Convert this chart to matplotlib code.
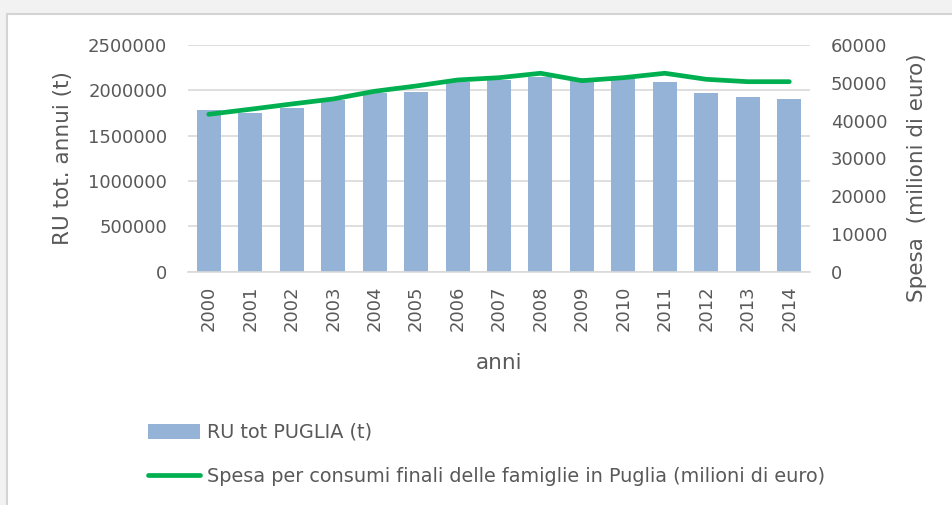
import numpy as np
import matplotlib
matplotlib.use("Agg")
import matplotlib.pyplot as plt
from matplotlib.patches import Rectangle

years = ['2000', '2001', '2002', '2003', '2004', '2005', '2006', '2007',
         '2008', '2009', '2010', '2011', '2012', '2013', '2014']
ru_tot = [1780000, 1753000, 1809000, 1897000, 1967000, 1982000, 2095000, 2114000,
          2151000, 2133000, 2127000, 2095000, 1967000, 1923000, 1908000]
spesa = [41660, 42990, 44390, 45710, 47750, 49150, 50740, 51350,
         52520, 50560, 51350, 52520, 50920, 50290, 50290]

bar_label = 'RU tot PUGLIA (t)'
line_label = 'Spesa per consumi finali delle famiglie in Puglia (milioni di euro)'

txt = '#595959'
grid = '#d9d9d9'
fs = 13
fs_title = 15.5
plt.rcParams['font.family'] = ['DejaVu Sans']

W, H = 953, 505
fig = plt.figure(figsize=(W / 100, H / 100), dpi=100, facecolor='#f2f2f2')
# white chart panel
fig.patches.append(Rectangle((7 / W, -0.1), 1.1, (H - 14) / H + 0.1,
                             transform=fig.transFigure, facecolor='white',
                             edgecolor='#d4d4d4', linewidth=1.5, zorder=-10))

ax = fig.add_axes([188 / W, 1 - 271.7 / H, 622 / W, 226.7 / H])
ax.set_facecolor('none')
x = np.arange(len(years))
ax.bar(x, ru_tot, width=0.58, color='#95b3d7', label=bar_label, zorder=2)
ax.set_xlim(-0.5, len(years) - 0.5)
ax.set_ylim(0, 2500000)
ax.set_yticks(np.arange(0, 2500001, 500000))
ax.set_yticklabels([str(v) for v in range(0, 2500001, 500000)])
ax.set_xticks(x)
ax.set_xticklabels(years, rotation=90)
ax.yaxis.grid(True, color=grid, linewidth=1.2, zorder=0)
ax.set_axisbelow(True)
for s in ['top', 'right', 'left']:
    ax.spines[s].set_visible(False)
ax.spines['bottom'].set_color(grid)
ax.spines['bottom'].set_linewidth(1.2)
ax.tick_params(axis='y', length=0, pad=15, labelcolor=txt, labelsize=fs)
ax.tick_params(axis='x', length=0, pad=10, labelcolor=txt, labelsize=fs)
ax.set_xlabel('anni', color=txt, fontsize=fs_title, labelpad=16)
ax.set_ylabel('RU tot. annui (t)', color=txt, fontsize=fs_title)
ax.yaxis.set_label_coords(-0.185, 0.5)

ax2 = ax.twinx()
ax2.plot(x, spesa, color='#00b050', linewidth=3.4, solid_joinstyle='round',
         solid_capstyle='round', label=line_label, zorder=3)
ax2.set_ylim(0, 60000)
ax2.set_yticks(np.arange(0, 60001, 10000))
ax2.set_yticklabels([str(v) for v in range(0, 60001, 10000)])
for s in ['top', 'right', 'left', 'bottom']:
    ax2.spines[s].set_visible(False)
ax2.tick_params(axis='y', length=0, pad=15, labelcolor=txt, labelsize=fs)
ax2.set_ylabel('Spesa  (milioni di euro)', color=txt, fontsize=fs_title)
ax2.yaxis.set_label_coords(1.156, 0.415)

h1, l1 = ax.get_legend_handles_labels()
h2, l2 = ax2.get_legend_handles_labels()
fig.legend(h1 + h2, l1 + l2, loc='upper left',
           bbox_to_anchor=(148 / W, 1 - 423 / H), frameon=False,
           fontsize=13.9, labelcolor=txt, handlelength=2.7, handleheight=0.8,
           handletextpad=0.35, labelspacing=1.3, borderpad=0,
           borderaxespad=0)

fig.savefig('out.png', dpi=100, facecolor=fig.get_facecolor())
